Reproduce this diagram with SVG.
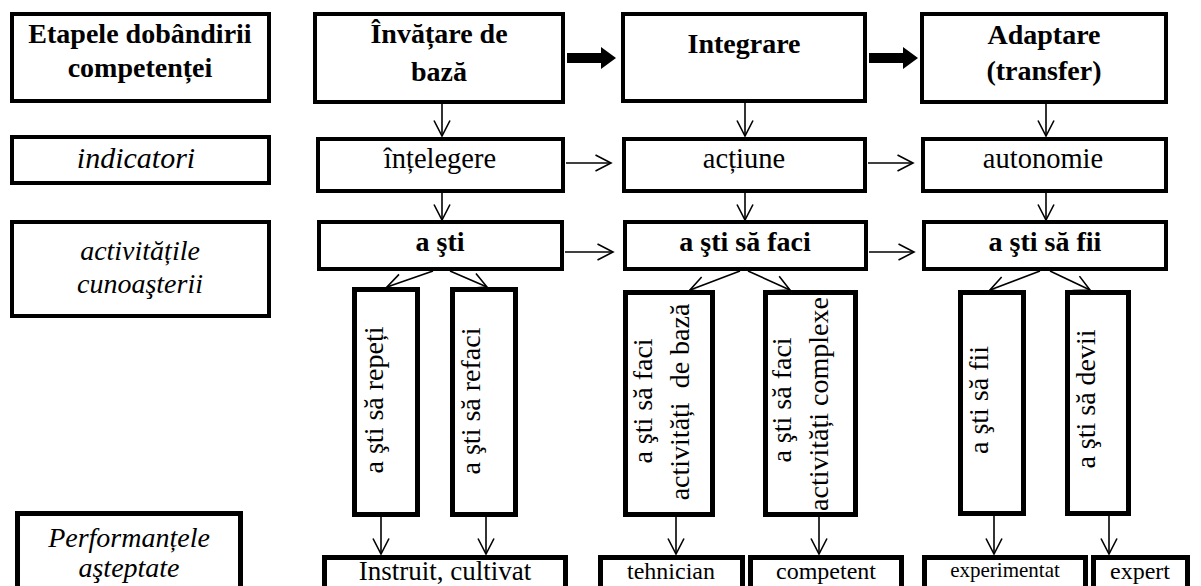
<svg xmlns="http://www.w3.org/2000/svg" width="1201" height="586" viewBox="0 0 1201 586">
<defs>
<marker id="arr" viewBox="0 0 18 18" markerWidth="18" markerHeight="18" markerUnits="userSpaceOnUse" refX="16.5" refY="9" orient="auto">
<path d="M1,1 L16.5,9 L1,17" fill="none" stroke="#000" stroke-width="1.6"/>
</marker>
<style>
.b4{fill:#fff;stroke:#000;stroke-width:4}
.b5{fill:#fff;stroke:#000;stroke-width:5}
.c{fill:none;stroke:#000;stroke-width:1.6;marker-end:url(#arr)}
text{font-family:"Liberation Serif","Times New Roman",serif;fill:#000;text-anchor:middle}
.bd{font-weight:bold;font-size:28px}
.it{font-style:italic;font-size:28px}
.rg{font-size:28.5px}
.vt{font-size:28px}
.bt{font-size:27px}
.sm{font-size:24px}
.xs{font-size:21px}
</style>
</defs>
<rect width="1201" height="586" fill="#fff"/>
<g id="connectors">
<polygon points="567,53 601,53 601,47 616,58 601,69 601,63 567,63" fill="#000"/>
<polygon points="869,53 903,53 903,47 918,58 903,69 903,63 869,63" fill="#000"/>
<line class="c" x1="442" y1="104" x2="442" y2="136"/>
<line class="c" x1="745" y1="103" x2="745" y2="136"/>
<line class="c" x1="1046" y1="104" x2="1046" y2="136"/>
<line class="c" x1="566" y1="163" x2="611" y2="163"/>
<line class="c" x1="868" y1="163" x2="913" y2="163"/>
<line class="c" x1="442" y1="193" x2="442" y2="220"/>
<line class="c" x1="745" y1="193" x2="745" y2="220"/>
<line class="c" x1="1046" y1="193" x2="1046" y2="220"/>
<line class="c" x1="565" y1="252" x2="613" y2="252"/>
<line class="c" x1="869" y1="252" x2="914" y2="252"/>
<line class="c" x1="433" y1="271" x2="387" y2="287"/>
<line class="c" x1="450" y1="271" x2="487" y2="287"/>
<line class="c" x1="740" y1="271" x2="690" y2="290"/>
<line class="c" x1="748" y1="271" x2="790" y2="290"/>
<line class="c" x1="1040" y1="271" x2="990" y2="290"/>
<line class="c" x1="1050" y1="271" x2="1090" y2="290"/>
<line class="c" x1="381" y1="515" x2="381" y2="554"/>
<line class="c" x1="486" y1="515" x2="486" y2="554"/>
<line class="c" x1="676" y1="513" x2="676" y2="554"/>
<line class="c" x1="819" y1="513" x2="819" y2="554"/>
<line class="c" x1="994" y1="513" x2="994" y2="554"/>
<line class="c" x1="1109" y1="513" x2="1109" y2="554"/>
</g>
<g id="etapele"><rect class="b4" x="12" y="14" width="257" height="87"/><text class="bd" x="140" y="43">Etapele dobândirii</text><text class="bd" x="140" y="77">competenței</text></g>
<g id="invatare"><rect class="b4" x="315" y="14" width="248" height="88"/><text class="bd" x="439" y="43">Învățare de</text><text class="bd" x="439" y="81">bază</text></g>
<g id="integrare"><rect class="b4" x="623" y="14" width="242" height="87"/><text class="bd" x="744" y="53">Integrare</text></g>
<g id="adaptare"><rect class="b4" x="922" y="14" width="244" height="88"/><text class="bd" x="1044" y="44">Adaptare</text><text class="bd" x="1044" y="80">(transfer)</text></g>
<g id="indicatori"><rect class="b4" x="12" y="137" width="257" height="46"/><text class="it" x="136" y="168" style="font-size:30px">indicatori</text></g>
<g id="intelegere"><rect class="b4" x="318" y="139" width="245" height="52"/><text class="rg" x="440" y="168">înțelegere</text></g>
<g id="actiune"><rect class="b4" x="624" y="139" width="241" height="52"/><text class="rg" x="744" y="168">acțiune</text></g>
<g id="autonomie"><rect class="b4" x="923" y="139" width="243" height="52"/><text class="rg" x="1043" y="168">autonomie</text></g>
<g id="activitatile"><rect class="b4" x="12" y="222" width="257" height="94"/><text class="it" x="140" y="260">activitățile</text><text class="it" x="140" y="293">cunoaşterii</text></g>
<g id="a-sti"><rect class="b4" x="319" y="222" width="243" height="47"/><text class="bd" x="440" y="251">a şti</text></g>
<g id="a-sti-sa-faci"><rect class="b4" x="625" y="222" width="241" height="47"/><text class="bd" x="745" y="251">a şti să faci</text></g>
<g id="a-sti-sa-fii"><rect class="b4" x="924" y="222" width="242" height="47"/><text class="bd" x="1045" y="251">a şti să fii</text></g>
<g id="repeti"><rect class="b5" x="354.5" y="289.5" width="63" height="225"/><text class="vt" transform="translate(383,400) rotate(-90)">a şti să repeți</text></g>
<g id="refaci"><rect class="b5" x="452.5" y="289.5" width="63" height="225"/><text class="vt" transform="translate(480,401) rotate(-90)">a şti să refaci</text></g>
<g id="faci-baza"><rect class="b5" x="625.5" y="292.5" width="87" height="222"/><text class="vt" transform="translate(652,401) rotate(-90)">a şti să faci</text><text class="vt" transform="translate(689,402) rotate(-90)" xml:space="preserve">activități  de bază</text></g>
<g id="faci-complexe"><rect class="b5" x="765.5" y="292.5" width="90" height="222"/><text class="vt" transform="translate(791,400) rotate(-90)">a şti să faci</text><text class="vt" transform="translate(828,404) rotate(-90)">activități complexe</text></g>
<g id="fii"><rect class="b5" x="960.5" y="292.5" width="63" height="221"/><text class="vt" transform="translate(988,400) rotate(-90)">a şti să fii</text></g>
<g id="devii"><rect class="b5" x="1067.5" y="292.5" width="61" height="221"/><text class="vt" transform="translate(1095,399) rotate(-90)">a şti să devii</text></g>
<g id="performantele"><rect class="b5" x="17.5" y="513.5" width="223" height="90"/><text class="it" x="129" y="547">Performanțele</text><text class="it" x="129" y="577">aşteptate</text></g>
<g id="instruit"><rect class="b5" x="324.5" y="557.5" width="241" height="50"/><text class="bt" x="445" y="580">Instruit, cultivat</text></g>
<g id="tehnician"><rect class="b5" x="600.5" y="557.5" width="142" height="50"/><text class="sm" x="671" y="579">tehnician</text></g>
<g id="competent"><rect class="b5" x="750.5" y="557.5" width="151" height="50"/><text class="sm" x="826" y="579">competent</text></g>
<g id="experimentat"><rect class="b5" x="924.5" y="557.5" width="161" height="50"/><text class="xs" x="1005" y="577">experimentat</text></g>
<g id="expert"><rect class="b5" x="1093.5" y="557.5" width="94" height="50"/><text class="sm" x="1140" y="579">expert</text></g>
</svg>
